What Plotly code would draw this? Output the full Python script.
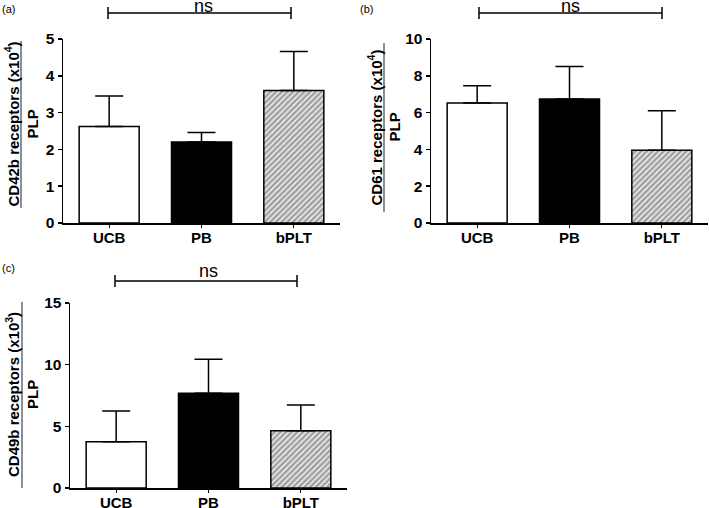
import plotly.graph_objects as go

W, H = 709, 508

categories = ["UCB", "PB", "bPLT"]
cd42b_mean = [2.62, 2.20, 3.60]
cd42b_err = [0.83, 0.26, 1.06]
cd61_mean = [6.52, 6.74, 3.95]
cd61_err = [0.94, 1.77, 2.15]
cd49b_mean = [3.75, 7.68, 4.65]
cd49b_err = [2.49, 2.76, 2.08]

panels = [
    dict(mean=cd42b_mean, err=cd42b_err, ymax=5, dtick=1, x0=63, x1=340, y0=223, y1=39,
         title="CD42b receptors (x10<sup>4</sup>)", tx=12, lx=21, px=32, ty0=41, ty1=208,
         label="(a)", lab=(8, 9), br=(108, 291, 13), ns=(203, 6)),
    dict(mean=cd61_mean, err=cd61_err, ymax=10, dtick=2, x0=431, x1=708, y0=223, y1=39,
         title="CD61 receptors (x10<sup>4</sup>)", tx=375, lx=384, px=394, ty0=43, ty1=212,
         label="(b)", lab=(366, 9), br=(479, 662, 13), ns=(570, 6)),
    dict(mean=cd49b_mean, err=cd49b_err, ymax=15, dtick=5, x0=70, x1=347, y0=488, y1=303,
         title="CD49b receptors (x10<sup>3</sup>)", tx=12, lx=22, px=32, ty0=302, ty1=488,
         label="(c)", lab=(8, 268), br=(115, 297, 281), ns=(208, 271)),
]

def px(x):
    return x / W

def py(y):
    return 1 - y / H

fig = go.Figure()
shapes = []
annotations = []
FONT = "Liberation Sans, Arial, sans-serif"

for i, p in enumerate(panels):
    sfx = "" if i == 0 else str(i + 1)
    fig.add_trace(go.Bar(
        x=categories, y=p["mean"],
        xaxis="x" + sfx, yaxis="y" + sfx,
        width=0.65,
        marker=dict(
            color=["white", "black", "white"],
            line=dict(color="black", width=1.5),
            pattern=dict(shape=["", "", "/"], fgcolor="black", bgcolor="white",
                         size=4, solidity=0.7, fillmode="overlay"),
        ),
        error_y=dict(type="data", symmetric=False, array=p["err"], arrayminus=[0, 0, 0],
                     color="black", thickness=1.5, width=14),
        showlegend=False,
        hoverinfo="skip",
    ))
    fig.update_layout(**{
        "xaxis" + sfx: dict(domain=[px(p["x0"]), px(p["x1"])], anchor="y" + sfx,
                            range=[-0.5, 2.5], showline=True, linecolor="black", linewidth=1.5,
                            ticks="outside", ticklen=3, tickwidth=1.2, tickcolor="black",
                            ticklabelstandoff=-3,
                            tickfont=dict(family=FONT, size=15, color="black", weight="bold"),
                            showgrid=False, zeroline=False, automargin=False),
        "yaxis" + sfx: dict(domain=[py(p["y0"]), py(p["y1"])], anchor="x" + sfx,
                            range=[0, p["ymax"]], dtick=p["dtick"], showline=True,
                            linecolor="black", linewidth=1.5, ticks="outside", ticklen=4,
                            tickwidth=1.5, tickcolor="black",
                            tickfont=dict(family=FONT, size=15.5, color="black", weight="bold"),
                            showgrid=False, zeroline=False, automargin=False),
    })
    cy = (p["ty0"] + p["ty1"]) / 2
    annotations.append(dict(xref="paper", yref="paper", x=px(p["tx"]), y=py(cy),
                            text="<b>" + p["title"] + "</b>", textangle=-90, showarrow=False,
                            font=dict(family=FONT, size=15, color="black"),
                            xanchor="center", yanchor="middle"))
    annotations.append(dict(xref="paper", yref="paper", x=px(p["px"]), y=py(cy),
                            text="<b>PLP</b>", textangle=-90, showarrow=False,
                            font=dict(family=FONT, size=15, color="black"),
                            xanchor="center", yanchor="middle"))
    shapes.append(dict(type="line", xref="paper", yref="paper",
                       x0=px(p["lx"]), x1=px(p["lx"]), y0=py(p["ty0"]), y1=py(p["ty1"]),
                       line=dict(color="#444444", width=1.2)))
    annotations.append(dict(xref="paper", yref="paper", x=px(p["lab"][0]), y=py(p["lab"][1]),
                            text=p["label"], showarrow=False,
                            font=dict(family=FONT, size=11, color="black"),
                            xanchor="center", yanchor="middle"))
    bx0, bx1, by = p["br"]
    shapes.append(dict(type="line", xref="paper", yref="paper", x0=px(bx0), x1=px(bx1),
                       y0=py(by), y1=py(by), line=dict(color="black", width=1.5)))
    for bx in (bx0, bx1):
        shapes.append(dict(type="line", xref="paper", yref="paper", x0=px(bx), x1=px(bx),
                           y0=py(by - 6), y1=py(by + 6), line=dict(color="black", width=1.5)))
    annotations.append(dict(xref="paper", yref="paper", x=px(p["ns"][0]), y=py(p["ns"][1]),
                            text="ns", showarrow=False,
                            font=dict(family=FONT, size=18, color="black"),
                            xanchor="center", yanchor="middle"))

fig.update_layout(width=W, height=H, margin=dict(l=0, r=0, t=0, b=0, autoexpand=False),
                  paper_bgcolor="white", plot_bgcolor="white", hovermode=False,
                  shapes=shapes, annotations=annotations, bargap=0.35)

fig.write_html("out.html", config={"displayModeBar": False, "staticPlot": True},
               post_script="document.body.style.margin='0';document.body.style.overflow='hidden';")
